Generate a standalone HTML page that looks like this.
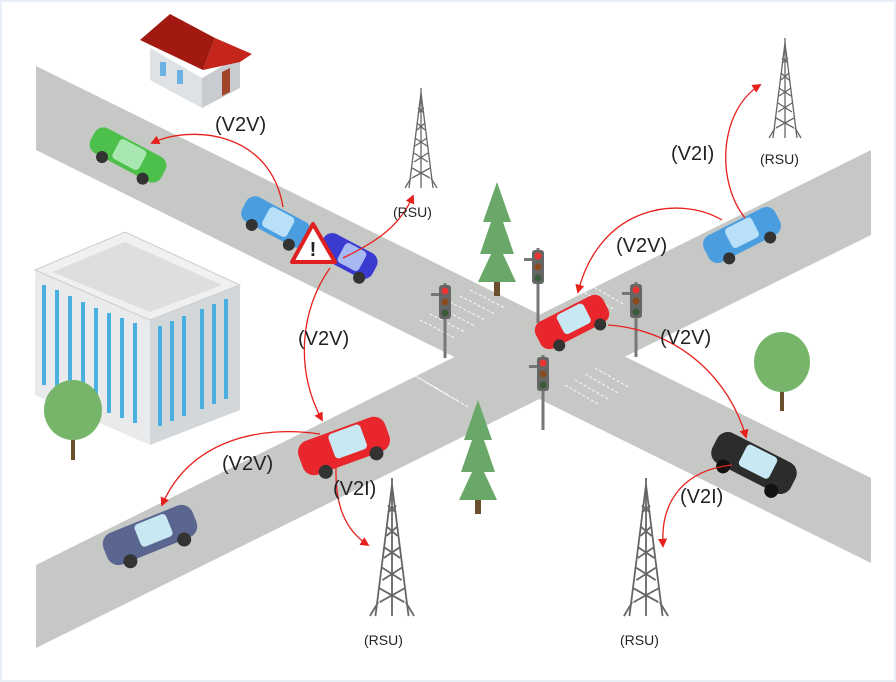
<!DOCTYPE html>
<html><head><meta charset="utf-8"><style>
html,body{margin:0;padding:0;background:#fff;}
svg{display:block;}
text{font-family:"Liberation Sans",sans-serif;fill:#222;}
</style></head><body>
<svg width="896" height="682" viewBox="0 0 896 682" xmlns="http://www.w3.org/2000/svg">
<defs>
<marker id="ah" viewBox="0 0 10 10" refX="8" refY="5" markerWidth="7" markerHeight="7" orient="auto-start-reverse">
<path d="M0,0 L10,5 L0,10 z" fill="#e8201c"/></marker>
<g id="tower" stroke="#666" stroke-width="1.3" fill="none">
<line x1="0" y1="0" x2="0" y2="100"/>
<line x1="0" y1="5" x2="-12" y2="100"/><line x1="0" y1="5" x2="12" y2="100"/>
<path d="M-3,20 L3,25 M3,20 L-3,25 M-4,35 L4,42 M4,35 L-4,42 M-6,50 L6,58 M6,50 L-6,58 M-7,65 L7,74 M7,65 L-7,74 M-9,80 L9,90 M9,80 L-9,90"/>
<line x1="-16" y1="100" x2="-10" y2="90"/><line x1="16" y1="100" x2="10" y2="90"/>
</g>
<g id="pine">
<polygon points="0,0 -14,40 -6,40 -17,72 -6,72 -19,100 19,100 6,72 17,72 6,40 14,40" fill="#6aa86a"/>
<rect x="-3" y="100" width="6" height="14" fill="#6b4e2e"/>
</g>
<g id="light">
<rect x="-1.5" y="0" width="3" height="75" fill="#777"/>
<rect x="-6" y="2" width="12" height="34" rx="3" fill="#666"/>
<circle cx="0" cy="8" r="3.5" fill="#e33"/><circle cx="0" cy="19" r="3.5" fill="#8a4a20"/><circle cx="0" cy="30" r="3.5" fill="#3a5a3a"/>
<rect x="-14" y="10" width="8" height="3" fill="#777"/>
</g>
</defs>
<rect x="0" y="0" width="896" height="682" fill="#fff"/>
<rect x="1" y="1" width="894" height="680" fill="none" stroke="#e8eef6" stroke-width="2"/>
<!-- roads -->
<polygon points="36,66 871,478 871,563 36,150" fill="#c6c8c5"/>
<polygon points="36,565 871,150 871,235 36,648" fill="#c6c8c5"/>
<!-- crosswalks -->
<g stroke="#fff" stroke-width="1" stroke-dasharray="3,2" fill="none" opacity="0.9">
<path d="M470,290 L505,308 M460,296 L495,314 M450,302 L485,320 M440,308 L475,326 M430,314 L465,332 M420,320 L455,338"/>
<path d="M405,370 L440,390 M415,376 L450,396 M425,382 L460,402 M435,388 L470,408"/>
<path d="M565,385 L600,405 M575,380 L610,400 M585,374 L620,394 M595,368 L630,388"/>
<path d="M580,290 L615,310 M590,285 L625,305"/>
</g>
<!-- house -->
<polygon points="150,48 202,78 202,108 150,80" fill="#dfe2e5"/>
<polygon points="202,78 240,56 240,88 202,108" fill="#c8ccd0"/>
<polygon points="140,40 170,14 215,38 203,70" fill="#a21912"/>
<polygon points="203,70 215,38 252,54 240,62" fill="#c4261c"/>
<rect x="160" y="62" width="6" height="14" fill="#6ab0e0"/><rect x="177" y="70" width="6" height="14" fill="#6ab0e0"/>
<polygon points="222,72 230,68 230,92 222,96" fill="#a0442a"/>
<!-- building -->
<polygon points="35,270 150,320 150,445 35,395" fill="#e8eaec"/>
<polygon points="150,320 240,285 240,410 150,445" fill="#d4d7da"/>
<polygon points="35,270 125,232 240,285 150,320" fill="#f0f0f0" stroke="#ccc"/>
<polygon points="52,272 125,242 222,285 150,312" fill="#dedede"/>
<g fill="#4ab0e0">
<rect x="42" y="285" width="4" height="100"/><rect x="55" y="290" width="4" height="100"/><rect x="68" y="296" width="4" height="100"/><rect x="81" y="302" width="4" height="100"/><rect x="94" y="308" width="4" height="100"/><rect x="107" y="313" width="4" height="100"/><rect x="120" y="318" width="4" height="100"/><rect x="133" y="323" width="4" height="100"/>
<rect x="158" y="326" width="4" height="100"/><rect x="170" y="321" width="4" height="100"/><rect x="182" y="316" width="4" height="100"/><rect x="200" y="309" width="4" height="100"/><rect x="212" y="304" width="4" height="100"/><rect x="224" y="299" width="4" height="100"/>
</g>
<!-- round trees -->
<rect x="71" y="425" width="4" height="35" fill="#6b4e2e"/><ellipse cx="73" cy="410" rx="29" ry="30" fill="#77b56a"/>
<rect x="780" y="375" width="4" height="36" fill="#6b4e2e"/><ellipse cx="782" cy="362" rx="28" ry="30" fill="#77b56a"/>
<!-- pines -->
<use href="#pine" x="497" y="182"/>
<use href="#pine" x="478" y="400"/>
<!-- traffic lights -->
<use href="#light" x="445" y="283"/>
<use href="#light" x="538" y="248"/>
<use href="#light" x="543" y="355"/>
<use href="#light" x="636" y="282"/>
<!-- towers -->
<use href="#tower" x="421" y="88"/>
<use href="#tower" x="785" y="38"/>
<g transform="translate(392,478) scale(1.38)"><use href="#tower"/></g>
<g transform="translate(646,478) scale(1.38)"><use href="#tower"/></g>
<!-- cars -->
<g transform="translate(128,155) rotate(28)"><rect x="-40" y="-14" width="80" height="28" rx="10" fill="#4cc04a"/><rect x="-14" y="-12" width="30" height="22" rx="4" fill="#a8e8b0"/><circle cx="-22" cy="14" r="6" fill="#333"/><circle cx="24" cy="14" r="6" fill="#333"/></g>
<g transform="translate(276,222) rotate(28)"><rect x="-36" y="-14" width="72" height="28" rx="10" fill="#4a9ee0"/><rect x="-12" y="-12" width="28" height="22" rx="4" fill="#b8e0f8"/><circle cx="-20" cy="14" r="6" fill="#333"/><circle cx="22" cy="14" r="6" fill="#333"/></g>
<g transform="translate(348,256) rotate(28)"><rect x="-30" y="-14" width="60" height="28" rx="10" fill="#3a3ad0"/><rect x="-8" y="-12" width="24" height="22" rx="4" fill="#a8b8f0"/><circle cx="20" cy="14" r="6" fill="#333"/></g>
<polygon points="313,224 292,262 335,262" fill="#fff" stroke="#e02020" stroke-width="4" stroke-linejoin="round"/>
<text x="313" y="256" text-anchor="middle" font-size="20" font-weight="bold">!</text>
<g transform="translate(742,235) rotate(-27)"><rect x="-40" y="-15" width="80" height="30" rx="10" fill="#4a9ee0"/><rect x="-14" y="-13" width="30" height="22" rx="4" fill="#b8e0f8"/><circle cx="-22" cy="15" r="6" fill="#333"/><circle cx="24" cy="15" r="6" fill="#333"/></g>
<g transform="translate(572,322) rotate(-27)"><rect x="-38" y="-15" width="76" height="30" rx="10" fill="#e8262c"/><rect x="-12" y="-13" width="30" height="22" rx="4" fill="#c8e8f4"/><circle cx="-22" cy="15" r="6" fill="#333"/><circle cx="24" cy="15" r="6" fill="#333"/></g>
<g transform="translate(344,446) rotate(-20)"><rect x="-46" y="-18" width="92" height="36" rx="12" fill="#e8262c"/><rect x="-12" y="-16" width="34" height="26" rx="4" fill="#c8e8f4"/><circle cx="-26" cy="18" r="7" fill="#333"/><circle cx="28" cy="18" r="7" fill="#333"/></g>
<g transform="translate(150,535) rotate(-22)"><rect x="-48" y="-17" width="96" height="34" rx="12" fill="#5a6690"/><rect x="-12" y="-15" width="34" height="24" rx="4" fill="#c8e8f4"/><circle cx="-28" cy="17" r="7" fill="#333"/><circle cx="30" cy="17" r="7" fill="#333"/></g>
<g transform="translate(754,463) rotate(27)"><rect x="-44" y="-17" width="88" height="34" rx="12" fill="#2c2c2c"/><rect x="-14" y="-15" width="34" height="24" rx="4" fill="#c8e8f4"/><circle cx="-26" cy="17" r="7" fill="#111"/><circle cx="28" cy="17" r="7" fill="#111"/></g>
<!-- arrows -->
<g fill="none" stroke="#e8201c" stroke-width="1.3">
<path d="M283,207 C270,130 190,125 152,143" marker-end="url(#ah)"/>
<path d="M343,258 C380,240 400,225 413,196" marker-end="url(#ah)"/>
<path d="M330,268 C300,310 295,370 322,420" marker-end="url(#ah)"/>
<path d="M722,220 C680,195 600,205 578,292" marker-end="url(#ah)"/>
<path d="M745,218 C715,180 720,110 760,85" marker-end="url(#ah)"/>
<path d="M608,325 C680,330 730,380 746,437" marker-end="url(#ah)"/>
<path d="M320,434 C260,425 190,440 162,505" marker-end="url(#ah)"/>
<path d="M336,468 C335,505 345,530 368,545" marker-end="url(#ah)"/>
<path d="M732,465 C685,470 660,500 663,546" marker-end="url(#ah)"/>
</g>
<!-- labels -->
<g font-size="20">
<text x="215" y="131">(V2V)</text>
<text x="298" y="345">(V2V)</text>
<text x="616" y="252">(V2V)</text>
<text x="660" y="344">(V2V)</text>
<text x="222" y="470">(V2V)</text>
<text x="671" y="160">(V2I)</text>
<text x="333" y="495">(V2I)</text>
<text x="680" y="503">(V2I)</text>
</g>
<g font-size="14">
<text x="393" y="217">(RSU)</text>
<text x="760" y="164">(RSU)</text>
<text x="364" y="645">(RSU)</text>
<text x="620" y="645">(RSU)</text>
</g>
</svg>
</body></html>
